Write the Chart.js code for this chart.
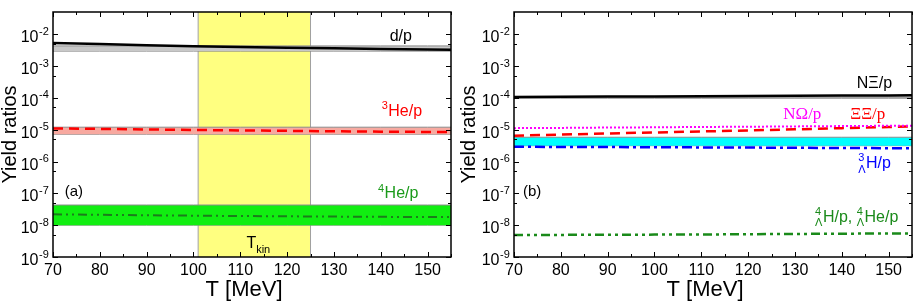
<!DOCTYPE html>
<html>
<head>
<meta charset="utf-8">
<script src="https://cdn.jsdelivr.net/npm/chart.js@4.4.1/dist/chart.umd.min.js"></script>
<style>
  body { margin: 0; background: #fff; }
  #wrap { position: relative; width: 917px; height: 303px; }
  canvas { position: absolute; top: 0; }
  #chartA { left: 0; }
  #chartB { left: 459px; }
</style>
</head>
<body>
<div id="wrap">
  <canvas id="chartA" width="458" height="303"></canvas>
  <canvas id="chartB" width="458" height="303"></canvas>
</div>
<script>
const FONT = '"Liberation Sans", Arial, sans-serif';
const SERIF = '"Liberation Serif", "Times New Roman", serif';

// temperature grid [MeV]
const temps = [70, 80, 90, 100, 110, 120, 130, 140, 150, 155];

// panel (a): light nuclei
const dpRatio   = [5.3e-3, 4.9e-3, 4.55e-3, 4.2e-3, 3.95e-3, 3.75e-3, 3.6e-3, 3.45e-3, 3.3e-3, 3.25e-3];
const dpBandHi  = [4.3e-3, 4.3e-3, 4.3e-3, 4.3e-3, 4.3e-3, 4.3e-3, 4.3e-3, 4.3e-3, 4.3e-3, 4.3e-3];
const dpBandLo  = [2.95e-3, 2.95e-3, 2.95e-3, 2.95e-3, 2.95e-3, 2.95e-3, 2.95e-3, 2.95e-3, 2.95e-3, 2.95e-3];
const he3Ratio  = [1.1e-5, 1.06e-5, 1.02e-5, 9.8e-6, 9.5e-6, 9.2e-6, 8.9e-6, 8.7e-6, 8.5e-6, 8.4e-6];
const he3BandHi = [1.2e-5, 1.2e-5, 1.2e-5, 1.2e-5, 1.2e-5, 1.2e-5, 1.2e-5, 1.2e-5, 1.2e-5, 1.2e-5];
const he3BandLo = [7.2e-6, 7.2e-6, 7.2e-6, 7.2e-6, 7.2e-6, 7.2e-6, 7.2e-6, 7.2e-6, 7.2e-6, 7.2e-6];
const he4Ratio  = [2.2e-8, 2.12e-8, 2.05e-8, 1.99e-8, 1.94e-8, 1.9e-8, 1.86e-8, 1.83e-8, 1.8e-8, 1.8e-8];
const he4BandHi = [4.3e-8, 4.3e-8, 4.3e-8, 4.3e-8, 4.3e-8, 4.3e-8, 4.3e-8, 4.3e-8, 4.3e-8, 4.3e-8];
const he4BandLo = [1.0e-8, 1.0e-8, 1.0e-8, 1.0e-8, 1.0e-8, 1.0e-8, 1.0e-8, 1.0e-8, 1.0e-8, 1.0e-8];
const tkinRange = [101, 125];

// panel (b): exotic states
const nXiRatio    = [1.07e-4, 1.08e-4, 1.1e-4, 1.11e-4, 1.13e-4, 1.14e-4, 1.16e-4, 1.18e-4, 1.19e-4, 1.2e-4];
const nXiBandHi   = [1.06e-4, 1.06e-4, 1.06e-4, 1.06e-4, 1.06e-4, 1.06e-4, 1.06e-4, 1.06e-4, 1.06e-4, 1.06e-4];
const nXiBandLo   = [9.6e-5, 9.6e-5, 9.6e-5, 9.6e-5, 9.6e-5, 9.6e-5, 9.6e-5, 9.6e-5, 9.6e-5, 9.6e-5];
const nOmegaRatio = [1.12e-5, 1.14e-5, 1.17e-5, 1.19e-5, 1.22e-5, 1.24e-5, 1.27e-5, 1.3e-5, 1.33e-5, 1.34e-5];
const xiXiRatio   = [6.5e-6, 7.0e-6, 7.6e-6, 8.2e-6, 8.8e-6, 9.5e-6, 1.03e-5, 1.12e-5, 1.22e-5, 1.27e-5];
const h3LBandHi   = [5.8e-6, 5.8e-6, 5.8e-6, 5.8e-6, 5.8e-6, 5.8e-6, 5.8e-6, 5.8e-6, 5.8e-6, 5.8e-6];
const h3LBandLo   = [3.15e-6, 3.15e-6, 3.15e-6, 3.15e-6, 3.15e-6, 3.15e-6, 3.15e-6, 3.15e-6, 3.15e-6, 3.15e-6];
const h3LRatio    = [2.9e-6, 2.88e-6, 2.85e-6, 2.82e-6, 2.78e-6, 2.75e-6, 2.7e-6, 2.67e-6, 2.63e-6, 2.62e-6];
const h4LRatio    = [4.9e-9, 4.95e-9, 5.0e-9, 5.05e-9, 5.1e-9, 5.2e-9, 5.3e-9, 5.4e-9, 5.5e-9, 5.5e-9];

// axes
const xMin = 70, xMax = 155;
const yMin = 1e-9, yMax = 0.05;
const xTicks = [70, 80, 90, 100, 110, 120, 130, 140, 150];
const xMinorTicks = [75, 85, 95, 105, 115, 125, 135, 145, 155];
const yTicks = [1e-9, 1e-8, 1e-7, 1e-6, 1e-5, 1e-4, 1e-3, 1e-2];
const yExponents = ['-9', '-8', '-7', '-6', '-5', '-4', '-3', '-2'];
const yMinorTicks = [5e-9, 5e-8, 5e-7, 5e-6, 5e-5, 5e-4, 5e-3];

function pts(vals) {
    return temps.map((t, i) => ({ x: t, y: vals[i] }));
}

function lineSet(vals, color, width, dash) {
    return {
        data: pts(vals), borderColor: color, borderWidth: width, borderDash: dash || [],
        pointRadius: 0, fill: false, tension: 0, order: 1
    };
}

function bandSets(hi, lo, fillColor) {
    return [
        { data: pts(hi), borderColor: '#8c8c8c', borderWidth: 1, backgroundColor: fillColor, fill: '+1', pointRadius: 0, order: 5 },
        { data: pts(lo), borderColor: '#8c8c8c', borderWidth: 1, fill: false, pointRadius: 0, order: 5 }
    ];
}

// draws text with super/subscripts; parts are strings or [sup, sub] pairs
function drawRich(ctx, x, y, parts, color, size, family) {
    const small = Math.round(size * 0.68);
    ctx.fillStyle = color;
    ctx.textAlign = 'left';
    ctx.textBaseline = 'alphabetic';
    parts.forEach(p => {
        if (typeof p === 'string') {
            ctx.font = size + 'px ' + family;
            ctx.fillText(p, x, y);
            x += ctx.measureText(p).width;
        } else {
            ctx.font = small + 'px ' + FONT;
            let w = 0;
            if (p[0]) { ctx.fillText(p[0], x, y - size * 0.42); w = ctx.measureText(p[0]).width; }
            if (p[1]) { ctx.fillText(p[1], x, y + size * 0.3); w = Math.max(w, ctx.measureText(p[1]).width); }
            x += w + 0.5;
        }
    });
}

function framePlugin(labels) {
    return {
        id: 'frame',
        afterDraw(chart) {
            const { ctx, chartArea: a, scales: { x, y } } = chart;
            ctx.save();
            ctx.strokeStyle = '#000';
            ctx.lineWidth = 1;
            ctx.beginPath();
            const xt = (list, len) => list.forEach(v => {
                const px = Math.round(x.getPixelForValue(v)) + 0.5;
                ctx.moveTo(px, a.bottom); ctx.lineTo(px, a.bottom - len);
                ctx.moveTo(px, a.top); ctx.lineTo(px, a.top + len);
            });
            const yt = (list, len) => list.forEach(v => {
                const py = Math.round(y.getPixelForValue(v)) + 0.5;
                ctx.moveTo(a.left, py); ctx.lineTo(a.left + len, py);
                ctx.moveTo(a.right, py); ctx.lineTo(a.right - len, py);
            });
            xt(xTicks, 5); xt(xMinorTicks, 3);
            yt(yTicks, 5); yt(yMinorTicks, 3);
            ctx.stroke();
            ctx.lineWidth = 1.5;
            ctx.strokeRect(a.left, a.top, a.right - a.left, a.bottom - a.top);

            // log tick labels 10^n
            yTicks.forEach((v, i) => {
                const py = y.getPixelForValue(v);
                ctx.fillStyle = '#000';
                ctx.font = '16px ' + FONT;
                ctx.textAlign = 'right';
                ctx.textBaseline = 'alphabetic';
                ctx.fillText('10', a.left - 14.5, py + 8);
                ctx.font = '11px ' + FONT;
                ctx.textAlign = 'left';
                ctx.fillText(yExponents[i], a.left - 14, py + 0.5);
            });

            // x axis title, sits a little left of centre as in the original
            ctx.font = '22px ' + FONT;
            ctx.textAlign = 'center';
            ctx.textBaseline = 'alphabetic';
            ctx.fillText('T [MeV]', (a.left + a.right) / 2 - 8, 296);

            // curve labels, anchored in data coordinates
            labels.forEach(l => {
                drawRich(ctx, x.getPixelForValue(l.at[0]), y.getPixelForValue(l.at[1]),
                    l.parts, l.color, l.size || 16, l.family || FONT);
            });
            ctx.restore();
        }
    };
}

function makeChart(id, datasets, labels, yAxisWidth, padRight) {
    return new Chart(document.getElementById(id), {
        type: 'line',
        data: { datasets },
        plugins: [framePlugin(labels)],
        options: {
            responsive: false,
            animation: false,
            devicePixelRatio: 1,
            layout: { padding: { top: 12, right: padRight, left: 0, bottom: 0 } },
            plugins: {
                legend: { display: false },
                tooltip: { enabled: false }
            },
            scales: {
                x: {
                    type: 'linear', min: xMin, max: xMax,
                    afterBuildTicks: s => { s.ticks = xTicks.map(v => ({ value: v })); },
                    afterFit: s => { s.height = 46; },
                    grid: { display: false, drawTicks: false },
                    border: { display: false },
                    ticks: { color: '#000', font: { size: 16, family: FONT }, padding: 4, maxRotation: 0, autoSkip: false }
                },
                y: {
                    type: 'logarithmic', min: yMin, max: yMax,
                    afterFit: s => { s.width = yAxisWidth; },
                    grid: { display: false, drawTicks: false },
                    border: { display: false },
                    ticks: { display: false },
                    title: { display: true, text: 'Yield ratios', color: '#000', font: { size: 20, family: FONT, lineHeight: 1 }, padding: { top: 0, bottom: 0 } }
                }
            }
        }
    });
}

// panel (a)
const setsA = [
    { data: [{ x: tkinRange[0], y: yMax }, { x: tkinRange[1], y: yMax }], backgroundColor: '#ffff80', borderWidth: 0, fill: 'start', pointRadius: 0, order: 10 },
    { data: [{ x: tkinRange[0], y: yMin }, { x: tkinRange[0], y: yMax }], borderColor: '#a0a0a0', borderWidth: 1, pointRadius: 0, order: 9 },
    { data: [{ x: tkinRange[1], y: yMin }, { x: tkinRange[1], y: yMax }], borderColor: '#a0a0a0', borderWidth: 1, pointRadius: 0, order: 9 },
    ...bandSets(dpBandHi, dpBandLo, '#c8c8c8'),
    ...bandSets(he3BandHi, he3BandLo, '#f7a9a0'),
    ...bandSets(he4BandHi, he4BandLo, '#11ee11'),
    lineSet(dpRatio, '#000', 2.5),
    lineSet(he3Ratio, '#ff0000', 2.5, [10, 6]),
    lineSet(he4Ratio, '#1c7c1c', 2, [9, 4, 2, 4, 2, 4])
];
const labelsA = [
    { at: [141.9, 6.1e-3], parts: ['d/p'], color: '#000' },
    { at: [140.2, 2.7e-5], parts: [['3', ''], 'He/p'], color: '#ff0000' },
    { at: [139.4, 6.9e-8], parts: [['4', ''], 'He/p'], color: '#1a9a1a' },
    { at: [72.5, 8.3e-8], parts: ['(a)'], color: '#000', size: 15 },
    { at: [111.3, 1.85e-9], parts: ['T', ['', 'kin']], color: '#000' }
];
makeChart('chartA', setsA, labelsA, 53, 7);

// panel (b)
const setsB = [
    ...bandSets(nXiBandHi, nXiBandLo, '#c8c8c8'),
    ...bandSets(h3LBandHi, h3LBandLo, '#00ffff'),
    lineSet(nXiRatio, '#000', 2.5),
    lineSet(nOmegaRatio, '#ff00ff', 2, [2, 2]),
    lineSet(xiXiRatio, '#ff0000', 2.5, [10, 6]),
    lineSet(h3LRatio, '#0000ff', 2.5, [10, 4, 3, 4]),
    lineSet(h4LRatio, '#1a8a1a', 2.5, [9, 4, 3, 4, 3, 4])
];
const labelsB = [
    { at: [143.2, 2.05e-4], parts: ['NΞ/p'], color: '#000' },
    { at: [127.5, 2.25e-5], parts: ['NΩ/p'], color: '#ff00ff', size: 17, family: SERIF },
    { at: [141.8, 2.25e-5], parts: ['ΞΞ/p'], color: '#ff0000', size: 17, family: SERIF },
    { at: [143.5, 6.25e-7], parts: [['3', 'Λ'], 'H/p'], color: '#0000ff' },
    { at: [71.9, 8.3e-8], parts: ['(b)'], color: '#000', size: 15 },
    { at: [134.3, 1.3e-8], parts: [['4', 'Λ'], 'H/p, ', ['4', 'Λ'], 'He/p'], color: '#1a8a1a' }
];
makeChart('chartB', setsB, labelsB, 55, 5);
</script>
</body>
</html>
